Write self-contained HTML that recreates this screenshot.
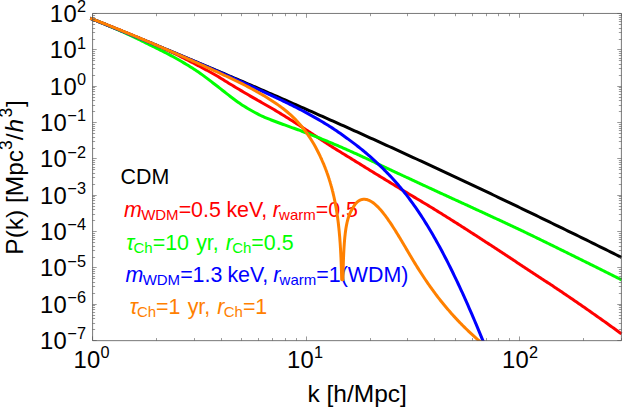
<!DOCTYPE html>
<html><head><meta charset="utf-8"><title>P(k)</title>
<style>html,body{margin:0;padding:0;background:#fff;}body{width:623px;height:409px;overflow:hidden;position:relative;font-family:"Liberation Sans",sans-serif;}</style>
</head><body>
<svg width="623" height="409" viewBox="0 0 623 409" style="position:absolute;left:0;top:0">
<defs><clipPath id="c"><rect x="89.5" y="10.6" width="534.95" height="330.36000000000007"/></clipPath></defs>
<rect x="0" y="0" width="623" height="409" fill="#fff"/>
<g font-family="Liberation Sans, sans-serif">
<text x="120.6" y="183.6" fill="#000" font-size="21.4" word-spacing="-0.4"><tspan>CDM</tspan></text>
<text x="124.1" y="216.5" fill="#ff0000" font-size="21.4" word-spacing="-0.4"><tspan font-style="italic">m</tspan><tspan font-size="15.0" dy="3.2" dx="-0.8">WDM</tspan><tspan dy="-3.2">=0.5 keV, </tspan><tspan font-style="italic">r</tspan><tspan font-size="15.0" dy="3.2" dx="-0.8">warm</tspan><tspan dy="-3.2">=0.5</tspan></text>
<text x="126.3" y="249.9" fill="#00ff00" font-size="21.4" word-spacing="1.2"><tspan font-style="italic">τ</tspan><tspan font-size="15.0" dy="3.2" dx="-0.8">Ch</tspan><tspan dy="-3.2">=10 yr, </tspan><tspan font-style="italic">r</tspan><tspan font-size="15.0" dy="3.2" dx="-0.8">Ch</tspan><tspan dy="-3.2">=0.5</tspan></text>
<text x="125.6" y="282.1" fill="#0000ff" font-size="21.4" word-spacing="-0.9"><tspan font-style="italic">m</tspan><tspan font-size="15.0" dy="3.2" dx="-0.8">WDM</tspan><tspan dy="-3.2">=1.3 keV, </tspan><tspan font-style="italic">r</tspan><tspan font-size="15.0" dy="3.2" dx="-0.8">warm</tspan><tspan dy="-3.2">=1(WDM)</tspan></text>
<text x="129.7" y="314.2" fill="#ff8000" font-size="21.4" word-spacing="1.2"><tspan font-style="italic">τ</tspan><tspan font-size="15.0" dy="3.2" dx="-0.8">Ch</tspan><tspan dy="-3.2">=1 yr, </tspan><tspan font-style="italic">r</tspan><tspan font-size="15.0" dy="3.2" dx="-0.8">Ch</tspan><tspan dy="-3.2">=1</tspan></text>
</g>
<g clip-path="url(#c)" fill="none" stroke-linejoin="round" stroke-linecap="butt">
<path d="M90.20,18.23 L92.87,19.30 L95.54,20.37 L98.21,21.45 L100.88,22.53 L103.55,23.61 L106.22,24.69 L108.89,25.77 L111.56,26.85 L114.23,27.93 L116.90,29.02 L119.57,30.10 L122.24,31.19 L124.91,32.28 L127.58,33.37 L130.25,34.46 L132.92,35.56 L135.59,36.65 L138.26,37.74 L140.93,38.84 L143.60,39.94 L146.27,41.04 L148.94,42.14 L151.61,43.24 L154.28,44.34 L156.95,45.45 L159.62,46.55 L162.29,47.66 L164.96,48.77 L167.63,49.88 L170.30,50.99 L172.97,52.10 L175.64,53.22 L178.31,54.33 L180.97,55.45 L183.64,56.56 L186.31,57.68 L188.98,58.80 L191.65,59.92 L194.32,61.05 L196.99,62.17 L199.66,63.30 L202.33,64.42 L205.00,65.55 L207.67,66.68 L210.34,67.81 L213.01,68.94 L215.68,70.08 L218.35,71.21 L221.02,72.35 L223.69,73.48 L226.36,74.62 L229.03,75.76 L231.70,76.90 L234.37,78.04 L237.04,79.19 L239.71,80.33 L242.38,81.48 L245.05,82.62 L247.72,83.77 L250.39,84.92 L253.06,86.07 L255.73,87.23 L258.40,88.38 L261.07,89.54 L263.74,90.69 L266.41,91.85 L269.08,93.01 L271.75,94.17 L274.42,95.33 L277.09,96.49 L279.76,97.66 L282.43,98.82 L285.10,99.99 L287.77,101.16 L290.44,102.33 L293.11,103.50 L295.78,104.67 L298.45,105.84 L301.12,107.02 L303.79,108.19 L306.46,109.37 L309.13,110.55 L311.80,111.73 L314.47,112.91 L317.14,114.09 L319.81,115.28 L322.48,116.46 L325.15,117.65 L327.82,118.84 L330.49,120.02 L333.16,121.21 L335.83,122.41 L338.50,123.60 L341.17,124.79 L343.84,125.99 L346.51,127.18 L349.18,128.38 L351.85,129.58 L354.52,130.78 L357.18,131.98 L359.85,133.19 L362.52,134.39 L365.19,135.60 L367.86,136.81 L370.53,138.01 L373.20,139.22 L375.87,140.43 L378.54,141.65 L381.21,142.86 L383.88,144.07 L386.55,145.29 L389.22,146.51 L391.89,147.73 L394.56,148.95 L397.23,150.17 L399.90,151.39 L402.57,152.62 L405.24,153.84 L407.91,155.07 L410.58,156.29 L413.25,157.52 L415.92,158.75 L418.59,159.99 L421.26,161.22 L423.93,162.45 L426.60,163.69 L429.27,164.93 L431.94,166.16 L434.61,167.40 L437.28,168.64 L439.95,169.89 L442.62,171.13 L445.29,172.37 L447.96,173.62 L450.63,174.87 L453.30,176.12 L455.97,177.37 L458.64,178.62 L461.31,179.87 L463.98,181.12 L466.65,182.38 L469.32,183.64 L471.99,184.89 L474.66,186.15 L477.33,187.41 L480.00,188.67 L482.67,189.94 L485.34,191.20 L488.01,192.47 L490.68,193.73 L493.35,195.00 L496.02,196.27 L498.69,197.54 L501.36,198.81 L504.03,200.09 L506.70,201.36 L509.37,202.64 L512.04,203.92 L514.71,205.19 L517.38,206.47 L520.05,207.75 L522.72,209.04 L525.39,210.32 L528.06,211.61 L530.73,212.89 L533.39,214.18 L536.06,215.47 L538.73,216.76 L541.40,218.05 L544.07,219.34 L546.74,220.64 L549.41,221.93 L552.08,223.23 L554.75,224.53 L557.42,225.83 L560.09,227.13 L562.76,228.43 L565.43,229.73 L568.10,231.04 L570.77,232.34 L573.44,233.65 L576.11,234.96 L578.78,236.27 L581.45,237.58 L584.12,238.89 L586.79,240.20 L589.46,241.52 L592.13,242.83 L594.80,244.15 L597.47,245.47 L600.14,246.79 L602.81,248.11 L605.48,249.44 L608.15,250.76 L610.82,252.08 L613.49,253.41 L616.16,254.74 L618.83,256.07 L621.50,257.40" stroke="#000000" stroke-width="3.0"/>
<path d="M90.20,18.22 L91.53,18.74 L92.86,19.26 L94.19,19.78 L95.53,20.31 L96.86,20.83 L98.19,21.36 L99.52,21.88 L100.85,22.41 L102.18,22.94 L103.52,23.47 L104.85,24.01 L106.18,24.54 L107.51,25.08 L108.84,25.61 L110.17,26.15 L111.51,26.69 L112.84,27.23 L114.17,27.77 L115.50,28.31 L116.83,28.85 L118.16,29.40 L119.49,29.94 L120.83,30.49 L122.16,31.04 L123.49,31.59 L124.82,32.13 L126.15,32.68 L127.48,33.24 L128.82,33.79 L130.15,34.34 L131.48,34.90 L132.81,35.45 L134.14,36.01 L135.47,36.56 L136.81,37.12 L138.14,37.68 L139.47,38.24 L140.80,38.79 L142.13,39.36 L143.46,39.92 L144.79,40.48 L146.13,41.04 L147.46,41.60 L148.79,42.17 L150.12,42.73 L151.45,43.29 L152.78,43.86 L154.12,44.43 L155.45,45.00 L156.78,45.58 L158.11,46.16 L159.44,46.74 L160.77,47.32 L162.11,47.91 L163.44,48.49 L164.77,49.08 L166.10,49.68 L167.43,50.27 L168.76,50.87 L170.09,51.47 L171.43,52.08 L172.76,52.69 L174.09,53.32 L175.42,53.95 L176.75,54.60 L178.08,55.26 L179.42,55.94 L180.75,56.61 L182.08,57.29 L183.41,57.97 L184.74,58.65 L186.07,59.33 L187.41,60.02 L188.74,60.70 L190.07,61.39 L191.40,62.09 L192.73,62.78 L194.06,63.48 L195.39,64.18 L196.73,64.88 L198.06,65.58 L199.39,66.29 L200.72,66.99 L202.05,67.69 L203.38,68.40 L204.72,69.10 L206.05,69.81 L207.38,70.53 L208.71,71.25 L210.04,71.97 L211.37,72.71 L212.71,73.45 L214.04,74.21 L215.37,74.98 L216.70,75.76 L218.03,76.56 L219.36,77.37 L220.69,78.19 L222.03,79.02 L223.36,79.85 L224.69,80.68 L226.02,81.51 L227.35,82.34 L228.68,83.16 L230.02,83.98 L231.35,84.78 L232.68,85.58 L234.01,86.38 L235.34,87.18 L236.67,87.98 L238.01,88.77 L239.34,89.57 L240.67,90.36 L242.00,91.15 L243.33,91.94 L244.66,92.72 L245.99,93.51 L247.33,94.29 L248.66,95.07 L249.99,95.85 L251.32,96.62 L252.65,97.39 L253.98,98.16 L255.32,98.92 L256.65,99.67 L257.98,100.43 L259.31,101.18 L260.64,101.93 L261.97,102.69 L263.31,103.44 L264.64,104.19 L265.97,104.95 L267.30,105.71 L268.63,106.47 L269.96,107.24 L271.29,108.01 L272.63,108.79 L273.96,109.58 L275.29,110.37 L276.62,111.17 L277.95,111.98 L279.28,112.79 L280.62,113.60 L281.95,114.42 L283.28,115.24 L284.61,116.07 L285.94,116.90 L287.27,117.73 L288.61,118.56 L289.94,119.40 L291.27,120.24 L292.60,121.09 L293.93,121.93 L295.26,122.78 L296.59,123.63 L297.93,124.48 L299.26,125.33 L300.59,126.18 L301.92,127.03 L303.25,127.90 L304.58,128.77 L305.92,129.64 L307.25,130.51 L308.58,131.39 L309.91,132.27 L311.24,133.16 L312.57,134.04 L313.91,134.93 L315.24,135.82 L316.57,136.70 L317.90,137.59 L319.23,138.47 L320.56,139.35 L321.89,140.23 L323.23,141.11 L324.56,141.98 L325.89,142.85 L327.22,143.72 L328.55,144.57 L329.88,145.43 L331.22,146.27 L332.55,147.12 L333.88,147.95 L335.21,148.79 L336.54,149.62 L337.87,150.45 L339.21,151.27 L340.54,152.10 L341.87,152.92 L343.20,153.74 L344.53,154.56 L345.86,155.38 L347.19,156.20 L348.53,157.01 L349.86,157.83 L351.19,158.65 L352.52,159.47 L353.85,160.29 L355.18,161.11 L356.52,161.94 L357.85,162.76 L359.18,163.58 L360.51,164.40 L361.84,165.23 L363.17,166.05 L364.51,166.87 L365.84,167.69 L367.17,168.51 L368.50,169.34 L369.83,170.16 L371.16,170.98 L372.49,171.79 L373.83,172.61 L375.16,173.43 L376.49,174.25 L377.82,175.07 L379.15,175.88 L380.48,176.70 L381.82,177.51 L383.15,178.32 L384.48,179.14 L385.81,179.95 L387.14,180.76 L388.47,181.57 L389.81,182.39 L391.14,183.20 L392.47,184.01 L393.80,184.82 L395.13,185.62 L396.46,186.43 L397.79,187.24 L399.13,188.05 L400.46,188.85 L401.79,189.66 L403.12,190.46 L404.45,191.27 L405.78,192.07 L407.12,192.87 L408.45,193.67 L409.78,194.47 L411.11,195.27 L412.44,196.06 L413.77,196.86 L415.11,197.65 L416.44,198.44 L417.77,199.24 L419.10,200.03 L420.43,200.83 L421.76,201.62 L423.09,202.42 L424.43,203.22 L425.76,204.02 L427.09,204.83 L428.42,205.64 L429.75,206.45 L431.08,207.26 L432.42,208.08 L433.75,208.90 L435.08,209.72 L436.41,210.54 L437.74,211.36 L439.07,212.19 L440.41,213.01 L441.74,213.84 L443.07,214.67 L444.40,215.50 L445.73,216.34 L447.06,217.17 L448.39,218.00 L449.73,218.84 L451.06,219.68 L452.39,220.52 L453.72,221.36 L455.05,222.20 L456.38,223.04 L457.72,223.89 L459.05,224.73 L460.38,225.58 L461.71,226.43 L463.04,227.28 L464.37,228.13 L465.71,228.98 L467.04,229.84 L468.37,230.69 L469.70,231.55 L471.03,232.40 L472.36,233.26 L473.69,234.12 L475.03,234.98 L476.36,235.84 L477.69,236.70 L479.02,237.56 L480.35,238.43 L481.68,239.29 L483.02,240.16 L484.35,241.02 L485.68,241.89 L487.01,242.75 L488.34,243.62 L489.67,244.48 L491.01,245.35 L492.34,246.22 L493.67,247.09 L495.00,247.96 L496.33,248.83 L497.66,249.70 L498.99,250.57 L500.33,251.45 L501.66,252.32 L502.99,253.20 L504.32,254.08 L505.65,254.96 L506.98,255.83 L508.32,256.71 L509.65,257.59 L510.98,258.47 L512.31,259.35 L513.64,260.23 L514.97,261.11 L516.31,262.00 L517.64,262.88 L518.97,263.76 L520.30,264.64 L521.63,265.52 L522.96,266.40 L524.29,267.28 L525.63,268.16 L526.96,269.04 L528.29,269.92 L529.62,270.80 L530.95,271.68 L532.28,272.56 L533.62,273.43 L534.95,274.31 L536.28,275.18 L537.61,276.06 L538.94,276.92 L540.27,277.79 L541.61,278.66 L542.94,279.52 L544.27,280.39 L545.60,281.25 L546.93,282.12 L548.26,282.99 L549.59,283.86 L550.93,284.73 L552.26,285.61 L553.59,286.49 L554.92,287.38 L556.25,288.27 L557.58,289.16 L558.92,290.06 L560.25,290.96 L561.58,291.86 L562.91,292.76 L564.24,293.66 L565.57,294.57 L566.91,295.47 L568.24,296.38 L569.57,297.29 L570.90,298.19 L572.23,299.10 L573.56,300.01 L574.89,300.93 L576.23,301.84 L577.56,302.76 L578.89,303.67 L580.22,304.59 L581.55,305.51 L582.88,306.43 L584.22,307.35 L585.55,308.28 L586.88,309.20 L588.21,310.13 L589.54,311.06 L590.87,311.99 L592.21,312.92 L593.54,313.86 L594.87,314.79 L596.20,315.73 L597.53,316.67 L598.86,317.61 L600.19,318.55 L601.53,319.50 L602.86,320.44 L604.19,321.39 L605.52,322.34 L606.85,323.29 L608.18,324.25 L609.52,325.20 L610.85,326.16 L612.18,327.12 L613.51,328.08 L614.84,329.05 L616.17,330.01 L617.51,330.98 L618.84,331.95 L620.17,332.92 L621.50,333.90" stroke="#ff0000" stroke-width="3.0"/>
<path d="M90.20,18.23 L91.53,18.76 L92.86,19.29 L94.19,19.83 L95.53,20.36 L96.86,20.90 L98.19,21.45 L99.52,21.99 L100.85,22.54 L102.18,23.09 L103.52,23.64 L104.85,24.20 L106.18,24.76 L107.51,25.32 L108.84,25.88 L110.17,26.44 L111.51,27.01 L112.84,27.57 L114.17,28.14 L115.50,28.71 L116.83,29.28 L118.16,29.86 L119.49,30.44 L120.83,31.03 L122.16,31.62 L123.49,32.21 L124.82,32.81 L126.15,33.42 L127.48,34.04 L128.82,34.65 L130.15,35.28 L131.48,35.91 L132.81,36.54 L134.14,37.18 L135.47,37.82 L136.81,38.47 L138.14,39.12 L139.47,39.77 L140.80,40.42 L142.13,41.08 L143.46,41.74 L144.79,42.39 L146.13,43.05 L147.46,43.72 L148.79,44.38 L150.12,45.04 L151.45,45.70 L152.78,46.36 L154.12,47.02 L155.45,47.68 L156.78,48.34 L158.11,49.00 L159.44,49.66 L160.77,50.33 L162.11,51.00 L163.44,51.67 L164.77,52.35 L166.10,53.03 L167.43,53.72 L168.76,54.41 L170.09,55.11 L171.43,55.82 L172.76,56.53 L174.09,57.26 L175.42,57.99 L176.75,58.73 L178.08,59.49 L179.42,60.25 L180.75,61.02 L182.08,61.80 L183.41,62.59 L184.74,63.39 L186.07,64.20 L187.41,65.01 L188.74,65.82 L190.07,66.65 L191.40,67.48 L192.73,68.32 L194.06,69.18 L195.39,70.05 L196.73,70.93 L198.06,71.83 L199.39,72.75 L200.72,73.69 L202.05,74.65 L203.38,75.62 L204.72,76.61 L206.05,77.61 L207.38,78.62 L208.71,79.63 L210.04,80.66 L211.37,81.68 L212.71,82.70 L214.04,83.72 L215.37,84.74 L216.70,85.77 L218.03,86.80 L219.36,87.85 L220.69,88.90 L222.03,89.95 L223.36,91.00 L224.69,92.05 L226.02,93.10 L227.35,94.14 L228.68,95.17 L230.02,96.19 L231.35,97.20 L232.68,98.21 L234.01,99.22 L235.34,100.22 L236.67,101.21 L238.01,102.17 L239.34,103.10 L240.67,104.00 L242.00,104.88 L243.33,105.74 L244.66,106.57 L245.99,107.39 L247.33,108.19 L248.66,108.98 L249.99,109.75 L251.32,110.51 L252.65,111.26 L253.98,112.00 L255.32,112.73 L256.65,113.44 L257.98,114.14 L259.31,114.82 L260.64,115.48 L261.97,116.11 L263.31,116.72 L264.64,117.30 L265.97,117.87 L267.30,118.41 L268.63,118.95 L269.96,119.47 L271.29,119.98 L272.63,120.49 L273.96,121.00 L275.29,121.51 L276.62,122.02 L277.95,122.52 L279.28,123.01 L280.62,123.50 L281.95,123.99 L283.28,124.47 L284.61,124.94 L285.94,125.42 L287.27,125.89 L288.61,126.37 L289.94,126.84 L291.27,127.31 L292.60,127.79 L293.93,128.27 L295.26,128.75 L296.59,129.23 L297.93,129.72 L299.26,130.22 L300.59,130.72 L301.92,131.23 L303.25,131.73 L304.58,132.24 L305.92,132.75 L307.25,133.26 L308.58,133.77 L309.91,134.29 L311.24,134.80 L312.57,135.32 L313.91,135.85 L315.24,136.37 L316.57,136.90 L317.90,137.43 L319.23,137.96 L320.56,138.49 L321.89,139.03 L323.23,139.57 L324.56,140.12 L325.89,140.67 L327.22,141.22 L328.55,141.77 L329.88,142.33 L331.22,142.89 L332.55,143.45 L333.88,144.02 L335.21,144.59 L336.54,145.16 L337.87,145.74 L339.21,146.31 L340.54,146.89 L341.87,147.47 L343.20,148.06 L344.53,148.64 L345.86,149.23 L347.19,149.82 L348.53,150.41 L349.86,151.00 L351.19,151.59 L352.52,152.19 L353.85,152.79 L355.18,153.38 L356.52,153.98 L357.85,154.59 L359.18,155.19 L360.51,155.80 L361.84,156.41 L363.17,157.03 L364.51,157.64 L365.84,158.26 L367.17,158.88 L368.50,159.51 L369.83,160.13 L371.16,160.76 L372.49,161.38 L373.83,162.01 L375.16,162.64 L376.49,163.27 L377.82,163.90 L379.15,164.53 L380.48,165.16 L381.82,165.79 L383.15,166.41 L384.48,167.04 L385.81,167.67 L387.14,168.30 L388.47,168.92 L389.81,169.55 L391.14,170.17 L392.47,170.79 L393.80,171.41 L395.13,172.03 L396.46,172.65 L397.79,173.27 L399.13,173.89 L400.46,174.51 L401.79,175.13 L403.12,175.75 L404.45,176.37 L405.78,176.99 L407.12,177.61 L408.45,178.23 L409.78,178.85 L411.11,179.47 L412.44,180.08 L413.77,180.70 L415.11,181.32 L416.44,181.94 L417.77,182.56 L419.10,183.18 L420.43,183.79 L421.76,184.41 L423.09,185.03 L424.43,185.65 L425.76,186.26 L427.09,186.88 L428.42,187.50 L429.75,188.11 L431.08,188.73 L432.42,189.34 L433.75,189.96 L435.08,190.57 L436.41,191.19 L437.74,191.80 L439.07,192.42 L440.41,193.03 L441.74,193.64 L443.07,194.25 L444.40,194.87 L445.73,195.48 L447.06,196.09 L448.39,196.70 L449.73,197.31 L451.06,197.92 L452.39,198.53 L453.72,199.14 L455.05,199.75 L456.38,200.36 L457.72,200.96 L459.05,201.57 L460.38,202.18 L461.71,202.79 L463.04,203.40 L464.37,204.01 L465.71,204.62 L467.04,205.23 L468.37,205.84 L469.70,206.45 L471.03,207.07 L472.36,207.68 L473.69,208.29 L475.03,208.90 L476.36,209.52 L477.69,210.13 L479.02,210.75 L480.35,211.36 L481.68,211.98 L483.02,212.59 L484.35,213.21 L485.68,213.83 L487.01,214.44 L488.34,215.06 L489.67,215.67 L491.01,216.29 L492.34,216.90 L493.67,217.52 L495.00,218.13 L496.33,218.75 L497.66,219.37 L498.99,219.98 L500.33,220.60 L501.66,221.22 L502.99,221.84 L504.32,222.46 L505.65,223.08 L506.98,223.70 L508.32,224.32 L509.65,224.94 L510.98,225.57 L512.31,226.19 L513.64,226.82 L514.97,227.44 L516.31,228.07 L517.64,228.70 L518.97,229.33 L520.30,229.96 L521.63,230.60 L522.96,231.23 L524.29,231.87 L525.63,232.50 L526.96,233.14 L528.29,233.78 L529.62,234.42 L530.95,235.06 L532.28,235.71 L533.62,236.35 L534.95,237.00 L536.28,237.64 L537.61,238.29 L538.94,238.94 L540.27,239.59 L541.61,240.24 L542.94,240.89 L544.27,241.54 L545.60,242.19 L546.93,242.84 L548.26,243.49 L549.59,244.15 L550.93,244.80 L552.26,245.46 L553.59,246.11 L554.92,246.77 L556.25,247.42 L557.58,248.08 L558.92,248.74 L560.25,249.39 L561.58,250.05 L562.91,250.71 L564.24,251.36 L565.57,252.02 L566.91,252.68 L568.24,253.33 L569.57,253.99 L570.90,254.65 L572.23,255.30 L573.56,255.96 L574.89,256.62 L576.23,257.28 L577.56,257.93 L578.89,258.59 L580.22,259.25 L581.55,259.91 L582.88,260.57 L584.22,261.23 L585.55,261.89 L586.88,262.55 L588.21,263.21 L589.54,263.87 L590.87,264.54 L592.21,265.20 L593.54,265.86 L594.87,266.52 L596.20,267.18 L597.53,267.85 L598.86,268.51 L600.19,269.18 L601.53,269.84 L602.86,270.50 L604.19,271.17 L605.52,271.83 L606.85,272.50 L608.18,273.17 L609.52,273.83 L610.85,274.50 L612.18,275.17 L613.51,275.83 L614.84,276.50 L616.17,277.17 L617.51,277.84 L618.84,278.51 L620.17,279.18 L621.50,279.85" stroke="#00ff00" stroke-width="3.0"/>
<path d="M90.20,18.24 L91.54,18.78 L92.89,19.32 L94.23,19.86 L95.58,20.41 L96.92,20.95 L98.26,21.49 L99.61,22.03 L100.95,22.58 L102.29,23.12 L103.64,23.66 L104.98,24.21 L106.33,24.75 L107.67,25.30 L109.01,25.84 L110.36,26.39 L111.70,26.93 L113.04,27.48 L114.39,28.02 L115.73,28.57 L117.08,29.12 L118.42,29.67 L119.76,30.21 L121.11,30.76 L122.45,31.31 L123.80,31.86 L125.14,32.41 L126.48,32.96 L127.83,33.51 L129.17,34.06 L130.51,34.61 L131.86,35.16 L133.20,35.72 L134.55,36.27 L135.89,36.82 L137.23,37.37 L138.58,37.93 L139.92,38.48 L141.26,39.03 L142.61,39.59 L143.95,40.14 L145.30,40.70 L146.64,41.25 L147.98,41.81 L149.33,42.37 L150.67,42.92 L152.02,43.48 L153.36,44.04 L154.70,44.60 L156.05,45.15 L157.39,45.71 L158.73,46.27 L160.08,46.83 L161.42,47.39 L162.77,47.95 L164.11,48.51 L165.45,49.08 L166.80,49.64 L168.14,50.20 L169.48,50.76 L170.83,51.33 L172.17,51.89 L173.52,52.46 L174.86,53.02 L176.20,53.59 L177.55,54.15 L178.89,54.72 L180.24,55.28 L181.58,55.85 L182.92,56.42 L184.27,56.99 L185.61,57.56 L186.95,58.13 L188.30,58.70 L189.64,59.27 L190.99,59.84 L192.33,60.41 L193.67,60.98 L195.02,61.55 L196.36,62.13 L197.71,62.70 L199.05,63.27 L200.39,63.85 L201.74,64.43 L203.08,65.00 L204.42,65.58 L205.77,66.16 L207.11,66.73 L208.46,67.31 L209.80,67.89 L211.14,68.47 L212.49,69.05 L213.83,69.64 L215.17,70.22 L216.52,70.80 L217.86,71.39 L219.21,71.97 L220.55,72.56 L221.89,73.14 L223.24,73.73 L224.58,74.32 L225.93,74.91 L227.27,75.50 L228.61,76.09 L229.96,76.68 L231.30,77.27 L232.64,77.87 L233.99,78.46 L235.33,79.06 L236.68,79.65 L238.02,80.25 L239.36,80.85 L240.71,81.45 L242.05,82.05 L243.39,82.66 L244.74,83.26 L246.08,83.86 L247.43,84.47 L248.77,85.08 L250.11,85.69 L251.46,86.30 L252.80,86.91 L254.15,87.52 L255.49,88.14 L256.83,88.75 L258.18,89.37 L259.52,89.99 L260.86,90.61 L262.21,91.23 L263.55,91.85 L264.90,92.47 L266.24,93.09 L267.58,93.71 L268.93,94.33 L270.27,94.96 L271.61,95.58 L272.96,96.21 L274.30,96.83 L275.65,97.46 L276.99,98.09 L278.33,98.72 L279.68,99.36 L281.02,99.99 L282.37,100.63 L283.71,101.28 L285.05,101.92 L286.40,102.57 L287.74,103.23 L289.08,103.88 L290.43,104.54 L291.77,105.21 L293.12,105.88 L294.46,106.55 L295.80,107.23 L297.15,107.91 L298.49,108.60 L299.83,109.30 L301.18,110.00 L302.52,110.71 L303.87,111.42 L305.21,112.14 L306.55,112.86 L307.90,113.59 L309.24,114.33 L310.59,115.07 L311.93,115.82 L313.27,116.57 L314.62,117.33 L315.96,118.10 L317.30,118.87 L318.65,119.65 L319.99,120.44 L321.34,121.24 L322.68,122.04 L324.02,122.84 L325.37,123.66 L326.71,124.48 L328.05,125.31 L329.40,126.15 L330.74,127.00 L332.09,127.86 L333.43,128.74 L334.77,129.64 L336.12,130.55 L337.46,131.47 L338.81,132.41 L340.15,133.35 L341.49,134.30 L342.84,135.26 L344.18,136.23 L345.52,137.20 L346.87,138.18 L348.21,139.16 L349.56,140.14 L350.90,141.12 L352.24,142.11 L353.59,143.12 L354.93,144.14 L356.27,145.16 L357.62,146.21 L358.96,147.26 L360.31,148.33 L361.65,149.41 L362.99,150.50 L364.34,151.61 L365.68,152.73 L367.03,153.87 L368.37,155.02 L369.71,156.19 L371.06,157.37 L372.40,158.57 L373.74,159.79 L375.09,161.02 L376.43,162.27 L377.78,163.54 L379.12,164.82 L380.46,166.13 L381.81,167.44 L383.15,168.77 L384.49,170.11 L385.84,171.47 L387.18,172.85 L388.53,174.24 L389.87,175.65 L391.21,177.08 L392.56,178.53 L393.90,180.01 L395.25,181.50 L396.59,183.02 L397.93,184.57 L399.28,186.14 L400.62,187.74 L401.96,189.37 L403.31,191.03 L404.65,192.72 L406.00,194.44 L407.34,196.18 L408.68,197.95 L410.03,199.75 L411.37,201.58 L412.72,203.43 L414.06,205.31 L415.40,207.22 L416.75,209.16 L418.09,211.13 L419.43,213.13 L420.78,215.16 L422.12,217.22 L423.47,219.31 L424.81,221.44 L426.15,223.59 L427.50,225.77 L428.84,227.99 L430.18,230.24 L431.53,232.52 L432.87,234.83 L434.22,237.17 L435.56,239.54 L436.90,241.94 L438.25,244.37 L439.59,246.83 L440.94,249.32 L442.28,251.83 L443.62,254.38 L444.97,256.95 L446.31,259.56 L447.65,262.19 L449.00,264.85 L450.34,267.54 L451.69,270.26 L453.03,273.00 L454.37,275.78 L455.72,278.58 L457.06,281.40 L458.40,284.26 L459.75,287.14 L461.09,290.05 L462.44,292.98 L463.78,295.94 L465.12,298.92 L466.47,301.93 L467.81,304.96 L469.16,308.02 L470.50,311.10 L471.84,314.21 L473.19,317.34 L474.53,320.49 L475.87,323.66 L477.22,326.86 L478.56,330.08 L479.91,333.32 L481.25,336.58 L482.59,339.86 L483.94,343.16 L485.28,346.48 L486.62,349.82 L487.97,353.18 L489.31,356.55 L490.66,359.95 L492.00,363.36" stroke="#0000ff" stroke-width="3.0"/>
<path d="M90.20,18.24 L91.74,18.83 L93.28,19.42 L94.83,20.01 L96.37,20.60 L97.91,21.20 L99.45,21.80 L101.00,22.40 L102.54,23.00 L104.08,23.60 L105.62,24.21 L107.17,24.82 L108.71,25.43 L110.25,26.04 L111.79,26.66 L113.33,27.28 L114.88,27.89 L116.42,28.52 L117.96,29.14 L119.50,29.76 L121.05,30.39 L122.59,31.02 L124.13,31.64 L125.67,32.28 L127.21,32.91 L128.76,33.54 L130.30,34.18 L131.84,34.82 L133.38,35.45 L134.93,36.09 L136.47,36.74 L138.01,37.38 L139.55,38.02 L141.10,38.67 L142.64,39.32 L144.18,39.97 L145.72,40.62 L147.26,41.27 L148.81,41.92 L150.35,42.57 L151.89,43.23 L153.43,43.88 L154.98,44.54 L156.52,45.20 L158.06,45.86 L159.60,46.52 L161.14,47.18 L162.69,47.84 L164.23,48.51 L165.77,49.17 L167.31,49.84 L168.86,50.51 L170.40,51.17 L171.94,51.84 L173.48,52.51 L175.03,53.19 L176.57,53.86 L178.11,54.53 L179.65,55.21 L181.19,55.88 L182.74,56.56 L184.28,57.23 L185.82,57.91 L187.36,58.59 L188.91,59.27 L190.45,59.95 L191.99,60.64 L193.53,61.32 L195.08,62.00 L196.62,62.69 L198.16,63.38 L199.70,64.06 L201.24,64.75 L202.79,65.44 L204.33,66.14 L205.87,66.83 L207.41,67.52 L208.96,68.22 L210.50,68.92 L212.04,69.61 L213.58,70.31 L215.12,71.02 L216.67,71.72 L218.21,72.42 L219.75,73.13 L221.29,73.84 L222.84,74.55 L224.38,75.27 L225.92,75.99 L227.46,76.71 L229.01,77.44 L230.55,78.17 L232.09,78.90 L233.63,79.64 L235.17,80.39 L236.72,81.14 L238.26,81.90 L239.80,82.66 L241.34,83.43 L242.89,84.21 L244.43,84.99 L245.97,85.79 L247.51,86.59 L249.06,87.40 L250.60,88.22 L252.14,89.04 L253.68,89.88 L255.22,90.73 L256.77,91.59 L258.31,92.46 L259.85,93.34 L261.39,94.24 L262.94,95.15 L264.48,96.07 L266.02,97.01 L267.56,97.96 L269.10,98.93 L270.65,99.91 L272.19,100.91 L273.73,101.93 L275.27,102.97 L276.82,104.03 L278.36,105.11 L279.90,106.22 L281.44,107.35 L282.99,108.52 L284.53,109.72 L286.07,110.96 L287.61,112.24 L289.15,113.57 L290.70,114.94 L292.24,116.37 L293.78,117.84 L295.32,119.38 L296.87,120.98 L298.41,122.65 L299.95,124.39 L301.49,126.21 L303.03,128.11 L304.58,130.10 L306.12,132.18 L307.66,134.35 L309.20,136.63 L310.75,139.01 L312.29,141.50 L313.83,144.11 L315.37,146.84 L316.92,149.70 L318.46,152.71 L320.00,155.87 L320.00,155.87 L320.11,156.10 L320.23,156.34 L320.34,156.58 L320.45,156.82 L320.56,157.06 L320.68,157.30 L320.79,157.55 L320.90,157.79 L321.01,158.03 L321.13,158.28 L321.24,158.53 L321.35,158.77 L321.46,159.02 L321.58,159.27 L321.69,159.52 L321.80,159.78 L321.91,160.03 L322.03,160.28 L322.14,160.54 L322.25,160.79 L322.36,161.05 L322.48,161.31 L322.59,161.57 L322.70,161.83 L322.81,162.09 L322.93,162.35 L323.04,162.62 L323.15,162.88 L323.26,163.15 L323.38,163.42 L323.49,163.69 L323.60,163.96 L323.71,164.23 L323.83,164.50 L323.94,164.77 L324.05,165.05 L324.16,165.32 L324.28,165.60 L324.39,165.88 L324.50,166.16 L324.62,166.44 L324.73,166.72 L324.84,167.01 L324.95,167.29 L325.07,167.58 L325.18,167.87 L325.29,168.16 L325.40,168.45 L325.52,168.74 L325.63,169.04 L325.74,169.33 L325.85,169.63 L325.97,169.93 L326.08,170.23 L326.19,170.53 L326.30,170.83 L326.42,171.14 L326.53,171.45 L326.64,171.75 L326.75,172.06 L326.87,172.38 L326.98,172.69 L327.09,173.00 L327.20,173.32 L327.32,173.64 L327.43,173.96 L327.54,174.28 L327.65,174.61 L327.77,174.93 L327.88,175.26 L327.99,175.59 L328.10,175.92 L328.22,176.26 L328.33,176.60 L328.44,176.93 L328.55,177.27 L328.67,177.62 L328.78,177.96 L328.89,178.31 L329.01,178.66 L329.12,179.01 L329.23,179.36 L329.34,179.72 L329.46,180.08 L329.57,180.44 L329.68,180.80 L329.79,181.17 L329.91,181.53 L330.02,181.91 L330.13,182.28 L330.24,182.66 L330.36,183.04 L330.47,183.42 L330.58,183.80 L330.69,184.19 L330.81,184.58 L330.92,184.97 L331.03,185.37 L331.14,185.77 L331.26,186.17 L331.37,186.58 L331.48,186.99 L331.59,187.40 L331.71,187.82 L331.82,188.24 L331.93,188.66 L332.04,189.09 L332.16,189.52 L332.27,189.95 L332.38,190.39 L332.49,190.84 L332.61,191.28 L332.72,191.73 L332.83,192.19 L332.94,192.65 L333.06,193.11 L333.17,193.58 L333.28,194.06 L333.39,194.53 L333.51,195.02 L333.62,195.51 L333.73,196.00 L333.85,196.50 L333.96,197.00 L334.07,197.51 L334.18,198.03 L334.30,198.55 L334.41,199.08 L334.52,199.61 L334.63,200.15 L334.75,200.70 L334.86,201.25 L334.97,201.81 L335.08,202.38 L335.20,202.96 L335.31,203.54 L335.42,204.13 L335.53,204.73 L335.65,205.34 L335.76,205.96 L335.87,206.58 L335.98,207.22 L336.10,207.86 L336.21,208.52 L336.32,209.18 L336.43,209.86 L336.55,210.55 L336.66,211.25 L336.77,211.96 L336.88,212.68 L337.00,213.42 L337.11,214.17 L337.22,214.93 L337.33,215.71 L337.45,216.50 L337.56,217.31 L337.67,218.14 L337.78,218.99 L337.90,219.85 L338.01,220.73 L338.12,221.64 L338.24,222.56 L338.35,223.51 L338.46,224.48 L338.57,225.47 L338.69,226.50 L338.80,227.55 L338.91,228.63 L339.02,229.74 L339.14,230.89 L339.25,232.08 L339.36,233.30 L339.47,234.57 L339.59,235.88 L339.70,237.24 L339.81,238.65 L339.92,240.12 L340.04,241.65 L340.15,243.25 L340.26,244.93 L340.37,246.69 L340.49,248.55 L340.60,250.51 L340.71,252.58 L340.82,254.79 L340.94,257.15 L341.05,259.68 L341.16,262.42 L341.27,265.40 L341.39,268.68 L341.50,272.30 L341.61,276.38 L341.72,279.70 L341.84,279.70 L341.95,279.70 L342.06,279.70 L342.17,279.70 L342.29,279.70 L342.40,279.70 L342.48,279.70 L342.55,279.70 L342.62,279.70 L342.69,279.70 L342.76,279.70 L342.83,279.70 L342.91,279.70 L342.98,277.74 L343.06,273.87 L343.14,270.44 L343.21,267.37 L343.29,264.59 L343.37,262.05 L343.45,259.71 L343.54,257.55 L343.62,255.55 L343.70,253.67 L343.79,251.92 L343.88,250.26 L343.96,248.70 L344.05,247.23 L344.14,245.83 L344.23,244.49 L344.32,243.22 L344.41,242.01 L344.51,240.86 L344.60,239.75 L344.70,238.68 L344.79,237.66 L344.89,236.68 L344.99,235.73 L345.09,234.82 L345.19,233.94 L345.29,233.09 L345.39,232.27 L345.50,231.48 L345.60,230.71 L345.71,229.97 L345.81,229.24 L345.92,228.54 L346.03,227.86 L346.14,227.20 L346.25,226.56 L346.36,225.94 L346.47,225.33 L346.59,224.74 L346.70,224.17 L346.82,223.61 L346.94,223.06 L347.05,222.53 L347.17,222.01 L347.29,221.50 L347.41,221.01 L347.54,220.53 L347.66,220.06 L347.78,219.60 L347.91,219.15 L348.03,218.71 L348.16,218.28 L348.29,217.86 L348.42,217.45 L348.55,217.05 L348.68,216.66 L348.81,216.27 L348.95,215.89 L349.08,215.53 L349.21,215.16 L349.35,214.81 L349.49,214.46 L349.63,214.13 L349.77,213.79 L349.91,213.47 L350.05,213.15 L350.19,212.84 L350.33,212.53 L350.48,212.23 L350.62,211.93 L350.77,211.64 L350.92,211.36 L351.07,211.08 L351.22,210.81 L351.37,210.54 L351.52,210.28 L351.67,210.02 L351.82,209.77 L351.98,209.52 L352.14,209.28 L352.29,209.04 L352.45,208.80 L352.56,208.57 L352.68,208.35 L352.79,208.13 L352.90,207.91 L353.02,207.70 L353.13,207.49 L353.24,207.28 L353.35,207.08 L353.47,206.88 L353.58,206.69 L353.69,206.50 L353.81,206.31 L353.92,206.13 L354.03,205.95 L354.15,205.77 L354.26,205.60 L354.37,205.43 L354.48,205.26 L354.60,205.10 L354.71,204.93 L354.82,204.78 L354.94,204.62 L355.05,204.47 L355.16,204.32 L355.28,204.17 L355.39,204.03 L355.50,203.89 L355.62,203.75 L355.73,203.62 L355.84,203.49 L355.95,203.36 L356.07,203.23 L356.18,203.10 L356.29,202.98 L356.41,202.86 L356.52,202.75 L356.63,202.63 L356.75,202.52 L356.86,202.41 L356.97,202.30 L357.09,202.20 L357.20,202.09 L357.31,201.99 L357.42,201.89 L357.54,201.80 L357.65,201.70 L357.76,201.61 L357.88,201.52 L357.99,201.43 L358.10,201.35 L358.22,201.26 L358.33,201.18 L358.44,201.10 L358.56,201.02 L358.67,200.95 L358.78,200.87 L358.89,200.80 L359.01,200.73 L359.12,200.66 L359.23,200.60 L359.35,200.53 L359.46,200.47 L359.57,200.41 L359.69,200.35 L359.80,200.29 L359.91,200.24 L360.03,200.18 L360.14,200.13 L360.25,200.08 L360.36,200.03 L360.48,199.98 L360.59,199.94 L360.70,199.90 L360.82,199.85 L360.93,199.81 L361.04,199.77 L361.16,199.74 L361.27,199.70 L361.38,199.66 L361.49,199.63 L361.61,199.60 L361.72,199.57 L361.83,199.54 L361.95,199.51 L362.06,199.49 L362.17,199.47 L362.29,199.44 L362.40,199.42 L362.51,199.40 L362.63,199.38 L362.74,199.37 L362.85,199.35 L362.96,199.34 L363.08,199.32 L363.19,199.31 L363.30,199.30 L363.42,199.29 L363.53,199.29 L363.64,199.28 L363.76,199.28 L363.87,199.27 L363.98,199.27 L364.10,199.27 L364.21,199.27 L364.32,199.27 L364.43,199.27 L364.55,199.28 L364.66,199.28 L364.77,199.29 L364.89,199.30 L365.00,199.31 L365.00,199.31 L365.82,199.41 L366.64,199.57 L367.46,199.79 L368.28,200.07 L369.09,200.40 L369.91,200.78 L370.73,201.22 L371.55,201.70 L372.37,202.24 L373.19,202.81 L374.01,203.44 L374.83,204.10 L375.64,204.81 L376.46,205.56 L377.28,206.34 L378.10,207.17 L378.92,208.02 L379.74,208.91 L380.56,209.83 L381.38,210.79 L382.19,211.77 L383.01,212.78 L383.83,213.82 L384.65,214.88 L385.47,215.97 L386.29,217.08 L387.11,218.21 L387.93,219.37 L388.74,220.55 L389.56,221.74 L390.38,222.96 L391.20,224.19 L392.02,225.43 L392.84,226.70 L393.66,227.97 L394.48,229.26 L395.30,230.57 L396.11,231.88 L396.93,233.21 L397.75,234.54 L398.57,235.89 L399.39,237.24 L400.21,238.60 L401.03,239.96 L401.85,241.34 L402.66,242.71 L403.48,244.09 L404.30,245.47 L405.12,246.86 L405.94,248.25 L406.76,249.63 L407.58,251.02 L408.40,252.40 L409.21,253.79 L410.03,255.17 L410.85,256.55 L411.67,257.92 L412.49,259.29 L413.31,260.65 L414.13,262.00 L414.95,263.35 L415.77,264.69 L416.58,266.02 L417.40,267.34 L418.22,268.66 L419.04,269.96 L419.86,271.25 L420.68,272.53 L421.50,273.79 L422.32,275.05 L423.13,276.30 L423.95,277.54 L424.77,278.77 L425.59,279.98 L426.41,281.19 L427.23,282.39 L428.05,283.57 L428.87,284.75 L429.68,285.92 L430.50,287.07 L431.32,288.22 L432.14,289.36 L432.96,290.49 L433.78,291.60 L434.60,292.71 L435.42,293.81 L436.23,294.90 L437.05,295.98 L437.87,297.05 L438.69,298.11 L439.51,299.16 L440.33,300.21 L441.15,301.24 L441.97,302.26 L442.79,303.28 L443.60,304.29 L444.42,305.29 L445.24,306.28 L446.06,307.26 L446.88,308.23 L447.70,309.19 L448.52,310.15 L449.34,311.10 L450.15,312.04 L450.97,312.97 L451.79,313.89 L452.61,314.81 L453.43,315.72 L454.25,316.62 L455.07,317.51 L455.89,318.39 L456.70,319.27 L457.52,320.14 L458.34,321.00 L459.16,321.86 L459.98,322.71 L460.80,323.55 L461.62,324.39 L462.44,325.21 L463.26,326.03 L464.07,326.85 L464.89,327.66 L465.71,328.46 L466.53,329.25 L467.35,330.04 L468.17,330.82 L468.99,331.60 L469.81,332.37 L470.62,333.14 L471.44,333.90 L472.26,334.65 L473.08,335.40 L473.90,336.14 L474.72,336.87 L475.54,337.61 L476.36,338.33 L477.17,339.05 L477.99,339.77 L478.81,340.48 L479.63,341.19 L480.45,341.89 L481.27,342.58 L482.09,343.28 L482.91,343.96 L483.72,344.65 L484.54,345.33 L485.36,346.00 L486.18,346.67 L487.00,347.34" stroke="#ff8000" stroke-width="3.0"/>
</g>
<g stroke="#555555" stroke-width="0.75" fill="none">
<path stroke-width="0.8" d="M92.6,13.45 H621.4 V340.65 H92.6 Z"/>
<path stroke-width="0.6" d="M92.50,340.6600000000001 v-4.2 M92.50,13.6 v4.2 M156.50,340.6600000000001 v-2.6 M156.50,13.6 v2.6 M194.50,340.6600000000001 v-2.6 M194.50,13.6 v2.6 M221.50,340.6600000000001 v-2.6 M221.50,13.6 v2.6 M241.50,340.6600000000001 v-2.6 M241.50,13.6 v2.6 M258.50,340.6600000000001 v-2.6 M258.50,13.6 v2.6 M272.50,340.6600000000001 v-2.6 M272.50,13.6 v2.6 M285.50,340.6600000000001 v-2.6 M285.50,13.6 v2.6 M296.50,340.6600000000001 v-2.6 M296.50,13.6 v2.6 M306.50,340.6600000000001 v-4.2 M306.50,13.6 v4.2 M370.50,340.6600000000001 v-2.6 M370.50,13.6 v2.6 M407.50,340.6600000000001 v-2.6 M407.50,13.6 v2.6 M434.50,340.6600000000001 v-2.6 M434.50,13.6 v2.6 M455.50,340.6600000000001 v-2.6 M455.50,13.6 v2.6 M472.50,340.6600000000001 v-2.6 M472.50,13.6 v2.6 M486.50,340.6600000000001 v-2.6 M486.50,13.6 v2.6 M498.50,340.6600000000001 v-2.6 M498.50,13.6 v2.6 M509.50,340.6600000000001 v-2.6 M509.50,13.6 v2.6 M519.50,340.6600000000001 v-4.2 M519.50,13.6 v4.2 M583.50,340.6600000000001 v-2.6 M583.50,13.6 v2.6 M621.50,340.6600000000001 v-2.6 M621.50,13.6 v2.6 M92.5,340.50 h4.2 M621.45,340.50 h-4.2 M92.5,329.50 h2.6 M621.45,329.50 h-2.6 M92.5,323.50 h2.6 M621.45,323.50 h-2.6 M92.5,318.50 h2.6 M621.45,318.50 h-2.6 M92.5,315.50 h2.6 M621.45,315.50 h-2.6 M92.5,312.50 h2.6 M621.45,312.50 h-2.6 M92.5,309.50 h2.6 M621.45,309.50 h-2.6 M92.5,307.50 h2.6 M621.45,307.50 h-2.6 M92.5,305.50 h2.6 M621.45,305.50 h-2.6 M92.5,304.50 h4.2 M621.45,304.50 h-4.2 M92.5,293.50 h2.6 M621.45,293.50 h-2.6 M92.5,286.50 h2.6 M621.45,286.50 h-2.6 M92.5,282.50 h2.6 M621.45,282.50 h-2.6 M92.5,278.50 h2.6 M621.45,278.50 h-2.6 M92.5,276.50 h2.6 M621.45,276.50 h-2.6 M92.5,273.50 h2.6 M621.45,273.50 h-2.6 M92.5,271.50 h2.6 M621.45,271.50 h-2.6 M92.5,269.50 h2.6 M621.45,269.50 h-2.6 M92.5,267.50 h4.2 M621.45,267.50 h-4.2 M92.5,257.50 h2.6 M621.45,257.50 h-2.6 M92.5,250.50 h2.6 M621.45,250.50 h-2.6 M92.5,246.50 h2.6 M621.45,246.50 h-2.6 M92.5,242.50 h2.6 M621.45,242.50 h-2.6 M92.5,239.50 h2.6 M621.45,239.50 h-2.6 M92.5,237.50 h2.6 M621.45,237.50 h-2.6 M92.5,235.50 h2.6 M621.45,235.50 h-2.6 M92.5,233.50 h2.6 M621.45,233.50 h-2.6 M92.5,231.50 h4.2 M621.45,231.50 h-4.2 M92.5,220.50 h2.6 M621.45,220.50 h-2.6 M92.5,214.50 h2.6 M621.45,214.50 h-2.6 M92.5,209.50 h2.6 M621.45,209.50 h-2.6 M92.5,206.50 h2.6 M621.45,206.50 h-2.6 M92.5,203.50 h2.6 M621.45,203.50 h-2.6 M92.5,200.50 h2.6 M621.45,200.50 h-2.6 M92.5,198.50 h2.6 M621.45,198.50 h-2.6 M92.5,196.50 h2.6 M621.45,196.50 h-2.6 M92.5,195.50 h4.2 M621.45,195.50 h-4.2 M92.5,184.50 h2.6 M621.45,184.50 h-2.6 M92.5,177.50 h2.6 M621.45,177.50 h-2.6 M92.5,173.50 h2.6 M621.45,173.50 h-2.6 M92.5,169.50 h2.6 M621.45,169.50 h-2.6 M92.5,167.50 h2.6 M621.45,167.50 h-2.6 M92.5,164.50 h2.6 M621.45,164.50 h-2.6 M92.5,162.50 h2.6 M621.45,162.50 h-2.6 M92.5,160.50 h2.6 M621.45,160.50 h-2.6 M92.5,158.50 h4.2 M621.45,158.50 h-4.2 M92.5,148.50 h2.6 M621.45,148.50 h-2.6 M92.5,141.50 h2.6 M621.45,141.50 h-2.6 M92.5,137.50 h2.6 M621.45,137.50 h-2.6 M92.5,133.50 h2.6 M621.45,133.50 h-2.6 M92.5,130.50 h2.6 M621.45,130.50 h-2.6 M92.5,128.50 h2.6 M621.45,128.50 h-2.6 M92.5,126.50 h2.6 M621.45,126.50 h-2.6 M92.5,124.50 h2.6 M621.45,124.50 h-2.6 M92.5,122.50 h4.2 M621.45,122.50 h-4.2 M92.5,111.50 h2.6 M621.45,111.50 h-2.6 M92.5,105.50 h2.6 M621.45,105.50 h-2.6 M92.5,100.50 h2.6 M621.45,100.50 h-2.6 M92.5,97.50 h2.6 M621.45,97.50 h-2.6 M92.5,94.50 h2.6 M621.45,94.50 h-2.6 M92.5,91.50 h2.6 M621.45,91.50 h-2.6 M92.5,89.50 h2.6 M621.45,89.50 h-2.6 M92.5,87.50 h2.6 M621.45,87.50 h-2.6 M92.5,86.50 h4.2 M621.45,86.50 h-4.2 M92.5,75.50 h2.6 M621.45,75.50 h-2.6 M92.5,68.50 h2.6 M621.45,68.50 h-2.6 M92.5,64.50 h2.6 M621.45,64.50 h-2.6 M92.5,60.50 h2.6 M621.45,60.50 h-2.6 M92.5,58.50 h2.6 M621.45,58.50 h-2.6 M92.5,55.50 h2.6 M621.45,55.50 h-2.6 M92.5,53.50 h2.6 M621.45,53.50 h-2.6 M92.5,51.50 h2.6 M621.45,51.50 h-2.6 M92.5,49.50 h4.2 M621.45,49.50 h-4.2 M92.5,39.50 h2.6 M621.45,39.50 h-2.6 M92.5,32.50 h2.6 M621.45,32.50 h-2.6 M92.5,28.50 h2.6 M621.45,28.50 h-2.6 M92.5,24.50 h2.6 M621.45,24.50 h-2.6 M92.5,21.50 h2.6 M621.45,21.50 h-2.6 M92.5,19.50 h2.6 M621.45,19.50 h-2.6 M92.5,17.50 h2.6 M621.45,17.50 h-2.6 M92.5,15.50 h2.6 M621.45,15.50 h-2.6 M92.5,13.50 h4.2 M621.45,13.50 h-4.2"/>
</g>
<g font-family="Liberation Sans, sans-serif" fill="#000" font-size="23.8">
<text x="91.70" y="367.90" text-anchor="middle" letter-spacing="0.3">10<tspan font-size="16.3" dy="-9.8">0</tspan></text>
<text x="305.20" y="367.90" text-anchor="middle" letter-spacing="0.3">10<tspan font-size="16.3" dy="-9.8">1</tspan></text>
<text x="520.20" y="367.90" text-anchor="middle" letter-spacing="0.3">10<tspan font-size="16.3" dy="-9.8">2</tspan></text>
<text x="86.30" y="349.16" text-anchor="end" letter-spacing="0.3">10<tspan font-size="16.3" dy="-9.8">−7</tspan></text>
<text x="86.30" y="312.82" text-anchor="end" letter-spacing="0.3">10<tspan font-size="16.3" dy="-9.8">−6</tspan></text>
<text x="86.30" y="276.48" text-anchor="end" letter-spacing="0.3">10<tspan font-size="16.3" dy="-9.8">−5</tspan></text>
<text x="86.30" y="240.14" text-anchor="end" letter-spacing="0.3">10<tspan font-size="16.3" dy="-9.8">−4</tspan></text>
<text x="86.30" y="203.80" text-anchor="end" letter-spacing="0.3">10<tspan font-size="16.3" dy="-9.8">−3</tspan></text>
<text x="86.30" y="167.46" text-anchor="end" letter-spacing="0.3">10<tspan font-size="16.3" dy="-9.8">−2</tspan></text>
<text x="86.30" y="131.12" text-anchor="end" letter-spacing="0.3">10<tspan font-size="16.3" dy="-9.8">−1</tspan></text>
<text x="86.30" y="94.78" text-anchor="end" letter-spacing="0.3">10<tspan font-size="16.3" dy="-9.8">0</tspan></text>
<text x="86.30" y="58.44" text-anchor="end" letter-spacing="0.3">10<tspan font-size="16.3" dy="-9.8">1</tspan></text>
<text x="86.30" y="22.10" text-anchor="end" letter-spacing="0.3">10<tspan font-size="16.3" dy="-9.8">2</tspan></text>
</g>
<g font-family="Liberation Sans, sans-serif" fill="#000" font-size="24.5">
<text x="307.45" y="402">k [h/Mpc]</text>
<text transform="translate(22.6,254.7) rotate(-90)">P(k) [Mpc<tspan font-size="17.5" dy="-11">3</tspan><tspan dy="11">/</tspan><tspan font-style="italic" dx="0.8">h</tspan><tspan font-size="17.5" dy="-11" dx="1.4">3</tspan><tspan dy="11" dx="0.7">]</tspan></text>
</g>
</svg>
</body></html>
